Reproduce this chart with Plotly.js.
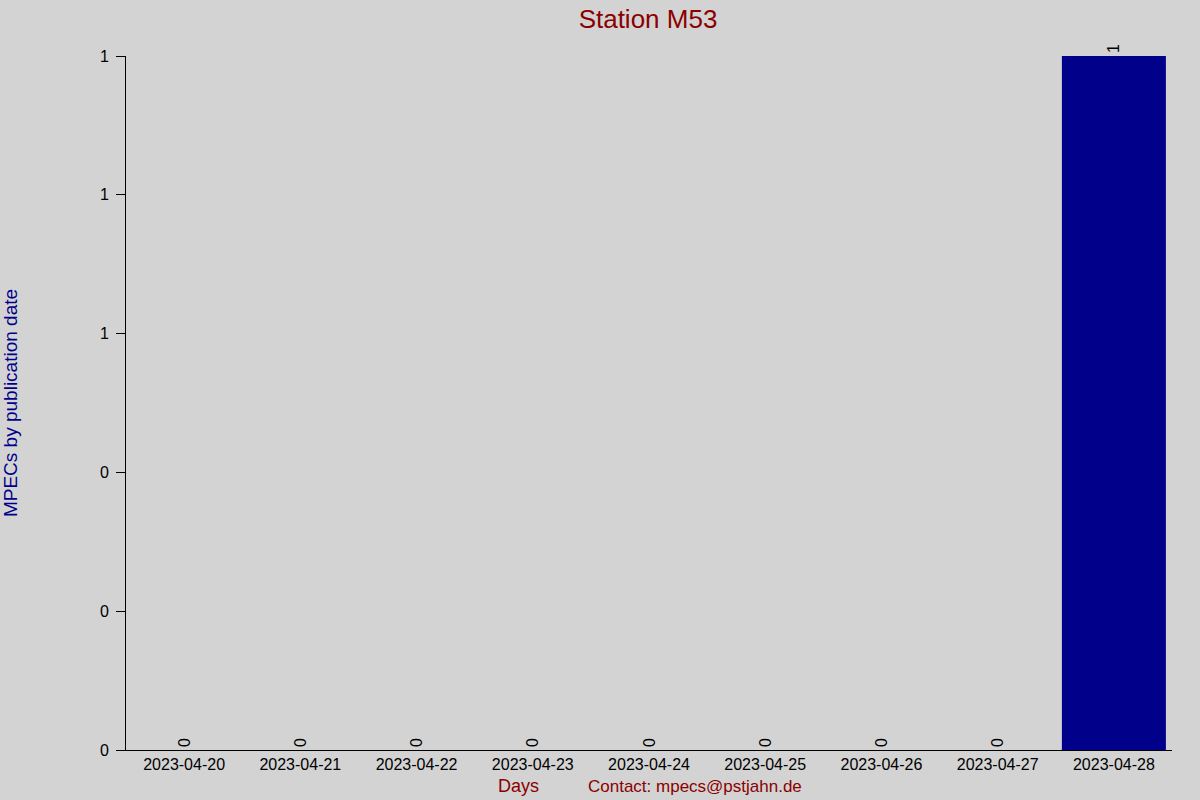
<!DOCTYPE html>
<html><head><meta charset="utf-8">
<script src="https://cdn.plot.ly/plotly-3.0.1.min.js"></script>
<style>body{margin:0;background:#d3d3d3;}#chart{width:1200px;height:800px;}</style>
</head><body><div id="chart"></div>
<script>
const days = ["2023-04-20","2023-04-21","2023-04-22","2023-04-23","2023-04-24","2023-04-25","2023-04-26","2023-04-27","2023-04-28"];
const counts = [0,0,0,0,0,0,0,0,1];
const yTickVals = [0,0.2,0.4,0.6,0.8,1];
const yTickText = ["0","0","0","1","1","1"];

const trace = {
  type: 'bar', x: days, y: counts,
  marker: {color: '#00008b'},
  text: counts.map(String), textposition: 'outside', textangle: -90,
  textfont: {family: 'Liberation Sans, Arial, sans-serif', size: 16, color: '#000'},
  cliponaxis: false, hoverinfo: 'none'
};
const layout = {
  width: 1200, height: 800,
  paper_bgcolor: '#d3d3d3', plot_bgcolor: '#d3d3d3',
  margin: {l: 126, r: 28, t: 56, b: 50},
  font: {family: 'Liberation Sans, Arial, sans-serif', color: '#000'},
  title: {text: 'Station M53', font: {size: 26, color: '#8b0000'}, x: 0.54, xanchor: 'center', y: 0.977, yanchor: 'middle'},
  bargap: 0.105,
  showlegend: false,
  xaxis: {type: 'category', showgrid: false, zeroline: false, showline: true, linecolor: '#000', linewidth: 1,
    ticks: '', tickfont: {size: 16}, ticklabelstandoff: 0},
  yaxis: {range: [0, 1], showgrid: false, zeroline: false, showline: true, linecolor: '#000', linewidth: 1,
    ticks: 'outside', ticklen: 9, tickcolor: '#000', tickvals: yTickVals, ticktext: yTickText,
    tickfont: {size: 16}, ticklabelstandoff: 4,
    title: {text: 'MPECs by publication date', font: {size: 19, color: '#00008b'}, standoff: 82}},
  annotations: [
    {text: 'Days', xref: 'paper', yref: 'paper', x: (518-126)/1046, y: -0.052, xanchor: 'center', yanchor: 'middle', showarrow: false, font: {size: 18, color: '#8b0000'}},
    {text: 'Contact: mpecs@pstjahn.de', xref: 'paper', yref: 'paper', x: (695-126)/1046, y: -0.052, xanchor: 'center', yanchor: 'middle', showarrow: false, font: {size: 17, color: '#8b0000'}}
  ]
};
Plotly.newPlot('chart', [trace], layout, {staticPlot: true});
</script></body></html>
